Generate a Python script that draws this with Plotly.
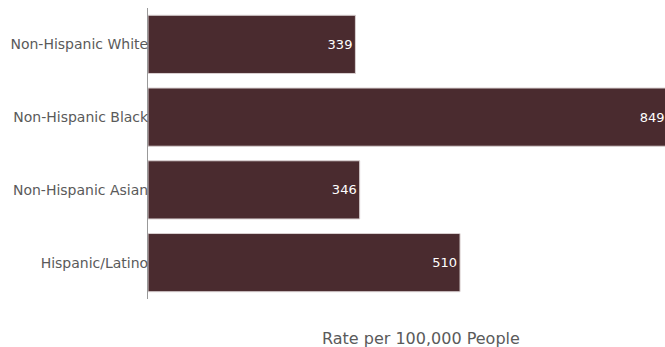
import plotly.graph_objects as go

categories = ["Non-Hispanic White", "Non-Hispanic Black", "Non-Hispanic Asian", "Hispanic/Latino"]
rates = [339, 849, 346, 510]
x_title = "Rate per 100,000 People"

fig = go.Figure(go.Bar(
    x=rates,
    y=categories,
    orientation="h",
    marker=dict(color="#4a2b2f", line=dict(color="#d9d0d1", width=1)),
    text=[str(v) for v in rates],
    textposition="inside",
    insidetextanchor="end",
    textfont=dict(color="white", size=13, family="DejaVu Sans"),
    hoverinfo="skip",
))

fig.update_layout(
    width=665, height=347,
    margin=dict(l=148, r=0, t=8, b=48),
    paper_bgcolor="white", plot_bgcolor="white",
    bargap=0.2,
    showlegend=False,
    font=dict(family="DejaVu Sans", size=13, color="#5a5a5a"),
    annotations=[dict(
        text=x_title, x=(421 - 148) / 517, xref="paper",
        y=-(338 - 299) / 291, yref="paper",
        xanchor="center", yanchor="middle",
        showarrow=False, font=dict(size=16, color="#5a5a5a"),
    )],
)
fig.update_xaxes(range=[0, 845], showticklabels=False, showgrid=False, zeroline=False, showline=False, ticks="")
fig.update_yaxes(autorange="reversed", showline=True, linecolor="#999999", linewidth=1,
                 ticks="", ticklen=0, showgrid=False, ticklabelstandoff=-4,
                 tickfont=dict(size=14, color="#5a5a5a"))

fig.write_html("out.html", config={"displayModeBar": False},
               post_script="document.body.style.margin='0';document.body.style.overflow='hidden';")
